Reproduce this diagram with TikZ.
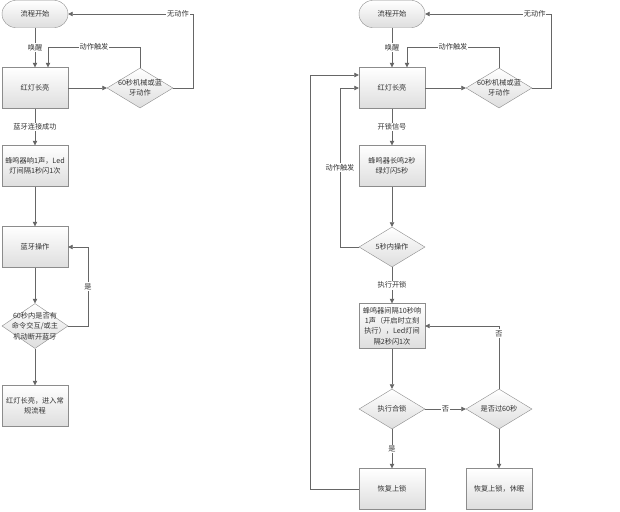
\documentclass[tikz,border=0pt]{standalone}
\usepackage{fontspec}
\setmainfont{Noto Sans CJK SC}
\usetikzlibrary{shapes.geometric,arrows.meta}
\begin{document}
\begin{tikzpicture}[x=1pt,y=-1pt,
  every node/.style={font=\fontsize{7.2}{10.4}\selectfont, text=black!80},
  shade/.style={draw=black!45, top color=white, bottom color=black!13},
  box/.style={shade, minimum width=66pt, minimum height=41pt, inner sep=1pt, align=center},
  term/.style={shade, rounded corners=13.5pt, minimum width=66pt, minimum height=27pt, inner sep=1pt},
  dia/.style={diamond, shade, minimum width=66pt, minimum height=40pt, inner sep=0pt},
  line/.style={draw=black!60, line width=0.7pt},
  arr/.style={line, -{Triangle[length=4.5pt,width=4.5pt]}},
  lab/.style={fill=white, inner sep=1pt},
]
\useasboundingbox (0,0) rectangle (620,511);

% ---------- left column ----------
\node[term] (s1) at (35,14) {流程开始};
\node[box] (r1) at (35,88) {红灯长亮};
\node[dia, label={[align=center]center:60秒机械或蓝\\牙动作}] (d1) at (140,88) {};
\node[box] (b1) at (35,166) {蜂鸣器响1声，Led\\灯间隔1秒闪1次};
\node[box] (bt) at (35,247) {蓝牙操作};
\node[dia, minimum height=45pt, label={[align=center]center:60秒内是否有\\命令交互/或主\\机动断开蓝牙}] (d2) at (35,326) {};
\node[box] (e1) at (35,406) {红灯长亮，进入常\\规流程};

\coordinate (c1) at (48,47);
\coordinate (c2) at (193,14);
\coordinate (c3) at (88,326);

\draw[arr] (s1) -- node[lab]{唤醒} (r1);
\draw[arr] (r1) -- (d1);
\draw[arr] (d1.north) |- node[lab,pos=0.75]{动作触发} (c1) -- (c1 |- r1.north);
\draw[arr] (d1.east) -| (c2) -- node[lab,pos=0.12]{无动作} (s1.east);
\draw[arr] (r1) -- node[lab]{蓝牙连接成功} (b1);
\draw[arr] (b1) -- (bt);
\draw[arr] (bt) -- (d2);
\draw[arr] (d2.east) -- (c3) |- node[lab,pos=0.25]{是} (bt.east);
\draw[arr] (d2) -- (e1);

% ---------- right column ----------
\node[term] (s2) at (392,14) {流程开始};
\node[box] (r2) at (392,88) {红灯长亮};
\node[dia, label={[align=center]center:60秒机械或蓝\\牙动作}] (d3) at (499,88) {};
\node[box] (b2) at (392,166) {蜂鸣器长鸣2秒\\绿灯闪5秒};
\node[dia, label={center:5秒内操作}] (d4) at (392,247) {};
\node[box, minimum height=45pt] (b3) at (392,326) {蜂鸣器间隔10秒响\\1声（开启时立刻\\执行），Led灯间\\隔2秒闪1次};
\node[dia, label={center:执行合锁}] (d5) at (392,409) {};
\node[dia, label={center:是否过60秒}] (d6) at (499,409) {};
\node[box] (f1) at (392,489) {恢复上锁};
\node[box] (f2) at (499,489) {恢复上锁，休眠};

\coordinate (c4) at (407,47);
\coordinate (c5) at (551,14);
\coordinate (c6) at (340,88);
\coordinate (c7) at (310,75);

\draw[arr] (s2) -- node[lab]{唤醒} (r2);
\draw[arr] (r2) -- (d3);
\draw[arr] (d3.north) |- node[lab,pos=0.75]{动作触发} (c4) -- (c4 |- r2.north);
\draw[arr] (d3.east) -| (c5) -- node[lab,pos=0.13]{无动作} (s2.east);
\draw[arr] (r2) -- node[lab]{开锁信号} (b2);
\draw[arr] (b2) -- (d4);
\draw[arr] (d4.west) -| node[lab,pos=0.75]{动作触发} (c6) -- (r2.west);
\draw[arr] (d4) -- node[lab]{执行开锁} (b3);
\draw[arr] (b3) -- (d5);
\draw[arr] (d5) -- node[lab]{否} (d6);
\draw[arr] (d6.north) |- node[lab,pos=0.44]{否} (b3.east);
\draw[arr] (d5) -- node[lab]{是} (f1);
\draw[arr] (d6) -- (f2);
\draw[arr] (f1.west) -| (c7) -- (c7 -| r2.west);
\end{tikzpicture}
\end{document}
